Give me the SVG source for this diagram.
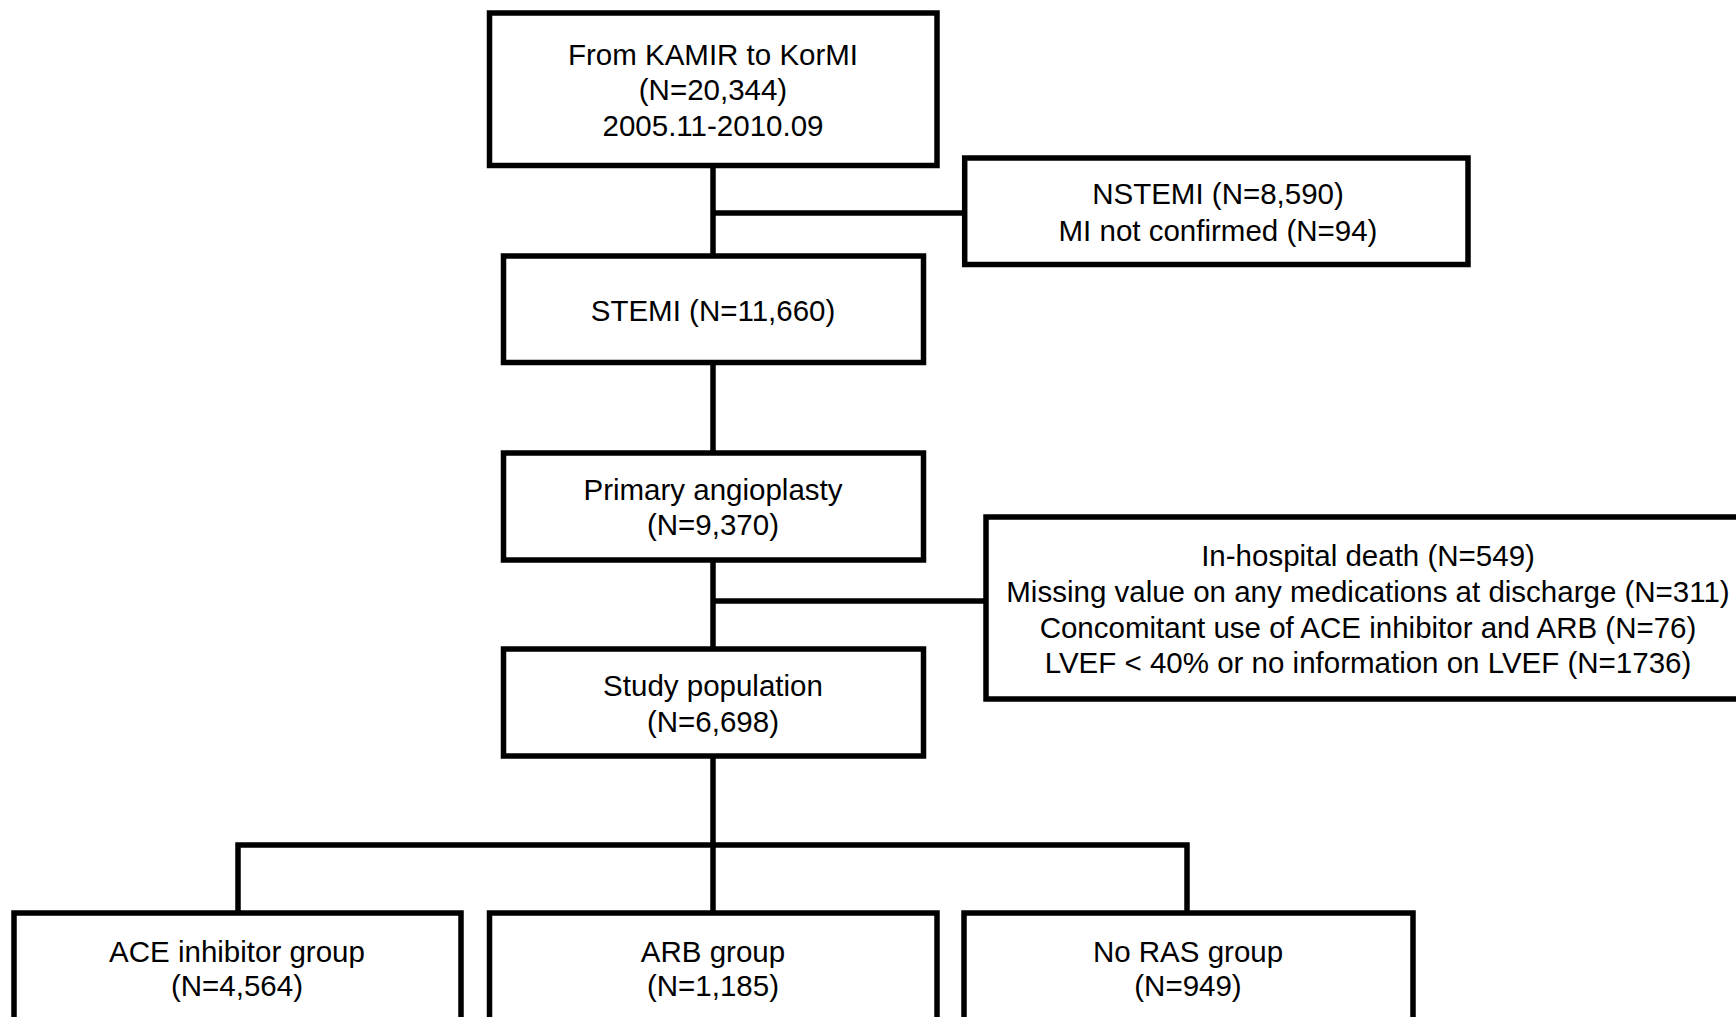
<svg xmlns="http://www.w3.org/2000/svg" width="1736" height="1017" viewBox="0 0 1736 1017">
<style>
.box{fill:#fff;stroke:#000;stroke-width:5.5}
.ln{fill:none;stroke:#000;stroke-width:5.5;stroke-linejoin:miter;stroke-linecap:butt}
text{font-family:"Liberation Sans",Arial,sans-serif;font-size:29.5px;fill:#000;text-anchor:middle}
</style>
<rect width="1736" height="1017" fill="#fff"/>
<g id="connectors">
<path class="ln" d="M713 165 V256"/>
<path class="ln" d="M713 213 H965"/>
<path class="ln" d="M713 362 V453"/>
<path class="ln" d="M713 560 V649"/>
<path class="ln" d="M713 601 H986"/>
<path class="ln" d="M713 756 V913"/>
<path class="ln" d="M238 913 V845 H1187 V913"/>
</g>
<g id="kamir">
<rect class="box" x="489.5" y="13" width="447.5" height="152.5"/>
<text x="713" y="65">From KAMIR to KorMI</text>
<text x="713" y="100">(N=20,344)</text>
<text x="713" y="135.5">2005.11-2010.09</text>
</g>
<g id="nstemi">
<rect class="box" x="964.7" y="158" width="503.3" height="106.5"/>
<text x="1218" y="204">NSTEMI (N=8,590)</text>
<text x="1218" y="241">MI not confirmed (N=94)</text>
</g>
<g id="stemi">
<rect class="box" x="503.5" y="256" width="420" height="106.5"/>
<text x="713" y="320.5">STEMI (N=11,660)</text>
</g>
<g id="primary">
<rect class="box" x="503.5" y="453" width="420" height="107"/>
<text x="713" y="499.5">Primary angioplasty</text>
<text x="713" y="535">(N=9,370)</text>
</g>
<g id="exclusion">
<rect class="box" x="986" y="517" width="800" height="182"/>
<text x="1368" y="566">In-hospital death (N=549)</text>
<text x="1368" y="602">Missing value on any medications at discharge (N=311)</text>
<text x="1368" y="637.5">Concomitant use of ACE inhibitor and ARB (N=76)</text>
<text x="1368" y="673">LVEF &lt; 40% or no information on LVEF (N=1736)</text>
</g>
<g id="study">
<rect class="box" x="503.5" y="649" width="420" height="107"/>
<text x="713" y="696">Study population</text>
<text x="713" y="732">(N=6,698)</text>
</g>
<g id="ace">
<rect class="box" x="14" y="913" width="447" height="140"/>
<text x="237" y="961.5">ACE inhibitor group</text>
<text x="237" y="996">(N=4,564)</text>
</g>
<g id="arb">
<rect class="box" x="489.5" y="913" width="447.5" height="140"/>
<text x="713" y="961.5">ARB group</text>
<text x="713" y="996">(N=1,185)</text>
</g>
<g id="noras">
<rect class="box" x="964" y="913" width="449" height="140"/>
<text x="1188" y="961.5">No RAS group</text>
<text x="1188" y="996">(N=949)</text>
</g>
</svg>
